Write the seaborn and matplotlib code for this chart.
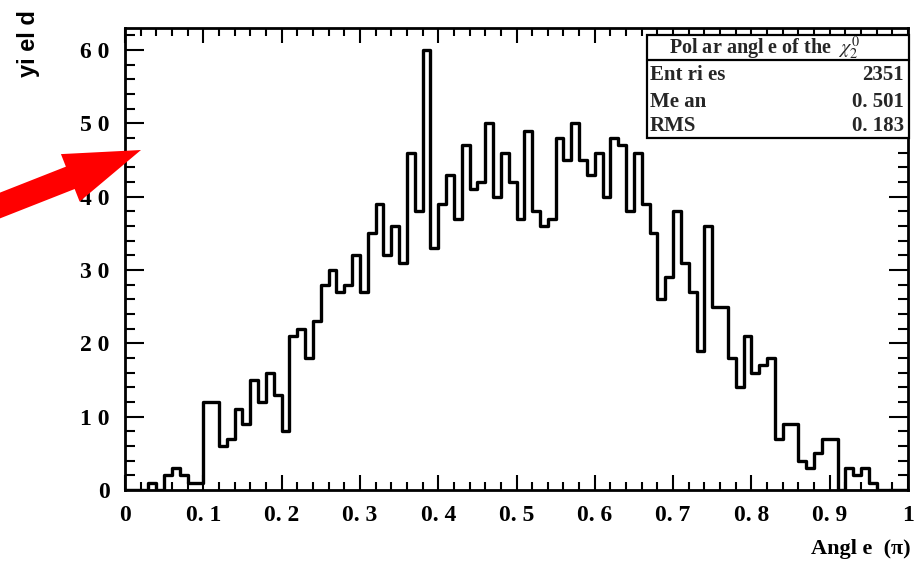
import numpy as np
import pandas as pd
import matplotlib
matplotlib.use("Agg")
import matplotlib.pyplot as plt
import seaborn as sns
from matplotlib.patches import Rectangle, Polygon
from matplotlib.transforms import IdentityTransform
from matplotlib.ticker import FixedLocator, MultipleLocator

# Yield per 0.01-wide angle bin (units of pi), 100 bins from 0 to 1
counts = [
    0, 0, 0, 1, 0, 2, 3, 2, 1, 1,
    12, 12, 6, 7, 11, 9, 15, 12, 16, 13,
    8, 21, 22, 18, 23, 28, 30, 27, 28, 32,
    27, 35, 39, 32, 36, 31, 46, 38, 60, 33,
    39, 43, 37, 47, 41, 42, 50, 40, 46, 42,
    37, 49, 38, 36, 37, 48, 45, 50, 45, 43,
    46, 40, 48, 47, 38, 46, 39, 35, 26, 29,
    38, 31, 27, 19, 36, 25, 25, 18, 14, 21,
    16, 17, 18, 7, 9, 9, 4, 3, 5, 7,
    7, 0, 3, 2, 3, 1, 0, 0, 0, 0,
]
bin_low, bin_high, n_bins = 0.0, 1.0, 100

x_ticks = [0, 0.1, 0.2, 0.3, 0.4, 0.5, 0.6, 0.7, 0.8, 0.9, 1.0]
x_tick_labels = ["0", "0. 1", "0. 2", "0. 3", "0. 4", "0. 5",
                 "0. 6", "0. 7", "0. 8", "0. 9", "1"]
y_ticks = [0, 10, 20, 30, 40, 50, 60]
y_tick_labels = ["0", "1 0", "2 0", "3 0", "4 0", "5 0", "6 0"]

stats_title = "Pol ar angl e of the  $\\chi_{2}^{0}$"
stats_names = ["Ent ri es", "Me an", "RMS"]
stats_mean = "0. 501"
stats_rms = "0. 183"

sns.set_theme(style="ticks")
plt.rcParams["font.family"] = ["Liberation Serif", "DejaVu Serif"]
plt.rcParams["mathtext.fontset"] = "stix"

W, H = 915, 565
fig = plt.figure(figsize=(W / 100, H / 100), dpi=100)
fig.patch.set_facecolor("white")

# frame in pixel terms: x 125..908, y 28..490 (from top)
ax = fig.add_axes([125 / W, (H - 490) / H, (908 - 125) / W, (490 - 28) / H])
ax.set_facecolor("white")

width = (bin_high - bin_low) / n_bins
centers = bin_low + width * (np.arange(n_bins) + 0.5)
df = pd.DataFrame({"angle": centers, "yield": counts})
sns.histplot(data=df, x="angle", weights="yield", bins=n_bins,
             binrange=(bin_low, bin_high), element="step", fill=False,
             color="black", linewidth=2.4, ax=ax)

ax.set_xlim(0, 1)
ax.set_ylim(0, 63)
ax.set_xlabel("")
ax.set_ylabel("")

for s in ax.spines.values():
    s.set_visible(True)
    s.set_linewidth(2.0)
    s.set_color("black")

ax.xaxis.set_major_locator(FixedLocator(x_ticks))
ax.xaxis.set_minor_locator(MultipleLocator(0.02))
ax.yaxis.set_major_locator(FixedLocator(y_ticks))
ax.yaxis.set_minor_locator(MultipleLocator(2))
ax.set_xticklabels(x_tick_labels)
ax.set_yticklabels(y_tick_labels)

ax.tick_params(which="both", direction="in", top=True, right=True,
               color="black", width=1.5)
ax.tick_params(axis="x", which="major", length=11, pad=10.5)
ax.tick_params(axis="x", which="minor", length=5.5)
ax.tick_params(axis="y", which="major", length=14, pad=11)
ax.tick_params(axis="y", which="minor", length=7)
for lab in ax.get_xticklabels() + ax.get_yticklabels():
    lab.set_fontsize(17)
    lab.set_fontweight("bold")
    lab.set_color("black")

# axis titles
fig.text(911 / W, 1 - 549 / H, "Angl e  (\u03c0)", ha="right", va="center",
         fontsize=16, fontweight="bold", color="black")
fig.text(28 / W, 1 - 10 / H, "yi el d", rotation=90, ha="center", va="top",
         fontsize=17, fontweight="bold", color="black",
         family=["Liberation Sans", "DejaVu Sans"])

# statistics box (pixel geometry converted to axes fractions)
def ax_x(px):
    return (px - 125) / (908 - 125)

def ax_y(py):
    return (490 - py) / (490 - 28)

bx0, bx1, by_top, by_sep, by_bot = 647, 909, 35, 60, 138
ax.add_patch(Rectangle((ax_x(bx0), ax_y(by_bot)), ax_x(bx1) - ax_x(bx0),
                       ax_y(by_top) - ax_y(by_bot), transform=ax.transAxes,
                       facecolor="white", edgecolor="black", linewidth=1.6,
                       clip_on=False, zorder=5))
ax.plot([ax_x(bx0), ax_x(bx1)], [ax_y(by_sep)] * 2, transform=ax.transAxes,
        color="black", linewidth=1.6, clip_on=False, zorder=6)
ax.text(ax_x(764), ax_y(48), stats_title, transform=ax.transAxes,
        ha="center", va="center", fontsize=14.5, fontweight="bold", zorder=7)

entries = str(int(sum(counts)))
row_vals = [entries, stats_mean, stats_rms]
row_y = [75, 102, 126]
for name, val, py in zip(stats_names, row_vals, row_y):
    ax.text(ax_x(650), ax_y(py), name, transform=ax.transAxes, ha="left",
            va="center", fontsize=15, fontweight="bold", zorder=7)
    ax.text(ax_x(904), ax_y(py), val, transform=ax.transAxes, ha="right",
            va="center", fontsize=15, fontweight="bold", zorder=7)

# red pointer arrow, built in pixel space
tip = np.array([141.0, 150.0])
u = np.array([141.0, -55.5])
u /= np.linalg.norm(u)
n = np.array([-u[1], u[0]])
head_len, head_half, shaft_half = 76.0, 25.5, 12.0
base = tip - head_len * u
tail = base - 110.0 * u
pts = [tip, base + head_half * n, base + shaft_half * n, tail + shaft_half * n,
       tail - shaft_half * n, base - shaft_half * n, base - head_half * n]
pts = [(p[0], H - p[1]) for p in pts]
fig.patches.append(Polygon(pts, closed=True, facecolor="#ff0000",
                           edgecolor="none", transform=IdentityTransform(),
                           zorder=10))

fig.savefig("out.png", dpi=100, facecolor="white")
